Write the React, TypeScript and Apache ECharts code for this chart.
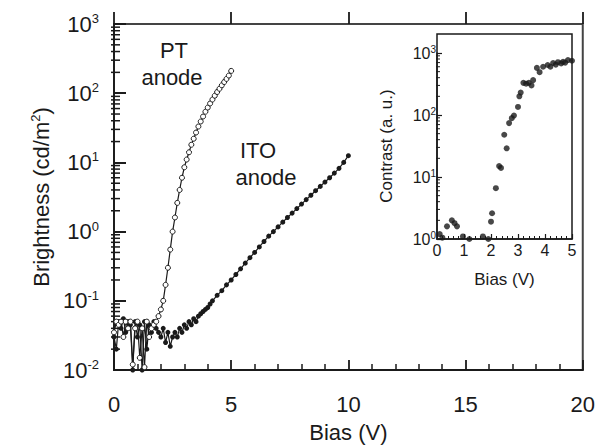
import React, { useEffect, useRef } from "react";
import * as echarts from "echarts";

// ---- Data ----
// PT anode: bias (V) and brightness (cd/m^2)
const PT_V = [0.0, 0.1, 0.2, 0.3, 0.4, 0.5, 0.6, 0.7, 0.8, 0.9, 1.0, 1.1, 1.2, 1.3, 1.4, 1.5, 1.6, 1.7, 1.8, 1.9, 2.0, 2.1, 2.2, 2.3, 2.4, 2.5, 2.6, 2.7, 2.8, 2.9, 3.0, 3.1, 3.2, 3.3, 3.4, 3.5, 3.6, 3.7, 3.8, 3.9, 4.0, 4.1, 4.2, 4.3, 4.4, 4.5, 4.6, 4.7, 4.8, 4.9, 5.0];
const PT_B = [0.035, 0.05, 0.045, 0.05, 0.03, 0.05, 0.04, 0.05, 0.012, 0.04, 0.05, 0.015, 0.04, 0.011, 0.05, 0.03, 0.04, 0.045, 0.05, 0.06, 0.075, 0.1, 0.17, 0.3, 0.55, 1.0, 1.6, 2.6, 4.0, 6.0, 8.5, 11, 14, 18, 22, 27, 33, 39, 46, 54, 62, 71, 81, 92, 104, 116, 130, 145, 161, 180, 210];

// ITO anode: bias (V) and brightness (cd/m^2)
const ITO_V = [0.0, 0.1, 0.2, 0.3, 0.4, 0.5, 0.6, 0.7, 0.8, 0.9, 1.0, 1.1, 1.2, 1.3, 1.4, 1.5, 1.6, 1.7, 1.8, 1.9, 2.0, 2.1, 2.2, 2.3, 2.4, 2.5, 2.6, 2.7, 2.8, 2.9, 3.0, 3.1, 3.2, 3.3, 3.4, 3.5, 3.6, 3.7, 3.8, 3.9, 4.0, 4.1, 4.2, 4.4, 4.6, 4.8, 5.0, 5.2, 5.4, 5.6, 5.8, 6.0, 6.2, 6.4, 6.6, 6.8, 7.0, 7.2, 7.4, 7.6, 7.8, 8.0, 8.2, 8.4, 8.6, 8.8, 9.0, 9.2, 9.4, 9.6, 9.8, 10.0];
const ITO_B = [0.03, 0.02, 0.05, 0.04, 0.055, 0.035, 0.05, 0.045, 0.01, 0.05, 0.03, 0.045, 0.01, 0.05, 0.02, 0.045, 0.035, 0.05, 0.04, 0.035, 0.03, 0.04, 0.025, 0.035, 0.022, 0.03, 0.035, 0.03, 0.04, 0.035, 0.045, 0.04, 0.05, 0.045, 0.055, 0.05, 0.06, 0.065, 0.07, 0.075, 0.08, 0.09, 0.1, 0.12, 0.14, 0.17, 0.2, 0.24, 0.29, 0.35, 0.42, 0.5, 0.6, 0.72, 0.86, 1.0, 1.17, 1.37, 1.6, 1.85, 2.15, 2.5, 2.9, 3.35, 3.9, 4.5, 5.2, 6.0, 7.0, 8.2, 10.0, 12.5];

// Inset: contrast (a. u.) vs bias (V)
const INSET_V = [0.1, 0.2, 0.37, 0.55, 0.65, 0.74, 0.96, 1.2, 1.7, 1.9, 2.0, 2.04, 2.18, 2.3, 2.37, 2.49, 2.58, 2.67, 2.77, 2.85, 3.0, 3.05, 3.1, 3.2, 3.3, 3.4, 3.5, 3.56, 3.7, 3.8, 3.93, 4.1, 4.2, 4.3, 4.4, 4.48, 4.6, 4.67, 4.75, 4.85, 5.0];
const INSET_C = [1.2, 1.05, 1.6, 2.0, 1.8, 1.6, 1.1, 1.0, 1.1, 1.0, 1.9, 2.6, 6.6, 15, 14, 48, 29, 74, 89, 98, 135, 200, 230, 330, 320, 330, 300, 365, 575, 490, 600, 640, 600, 690, 650, 710, 680, 720, 700, 770, 750];

// Axis ranges and ticks
const MAIN_X_MIN = 0, MAIN_X_MAX = 20, MAIN_X_STEP = 5;
const MAIN_Y_MIN = 0.01, MAIN_Y_MAX = 1000;
const INSET_X_MIN = 0, INSET_X_MAX = 5, INSET_X_STEP = 1;
const INSET_Y_MIN = 1, INSET_Y_MAX = 1000;
const MINOR_MULTS = [2, 3, 4, 5, 6, 7, 8, 9];
const MAIN_DECADES = [0.01, 0.1, 1, 10, 100];
const INSET_DECADES = [1, 10, 100];

const FONT = "Liberation Sans, Arial, Helvetica, sans-serif";
const INK = "#1a1a1a";

const supLabel = (v: number) => {
  const e = Math.round(Math.log10(v));
  return `{b|10}{s|${e}}`;
};

export default function App() {
  const ref = useRef<HTMLDivElement>(null);
  useEffect(() => {
    if (!ref.current) return;
    const chart = echarts.init(ref.current, undefined, { renderer: "svg" });

    const ptData = PT_V.map((v, i) => [v, PT_B[i]]);
    const itoData = ITO_V.map((v, i) => [v, ITO_B[i]]);
    const insetData = INSET_V.map((v, i) => [v, INSET_C[i]]);
    const mainMinor: number[][] = [];
    MAIN_DECADES.forEach((d) => MINOR_MULTS.forEach((m) => mainMinor.push([0, m * d])));
    const insetMinor: number[][] = [];
    INSET_DECADES.forEach((d) => MINOR_MULTS.forEach((m) => insetMinor.push([0, m * d])));

    const minorRender = (left: number, right: number, w: number) => (params: any, api: any) => {
      const p = api.coord([api.value(0), api.value(1)]);
      return {
        type: "line",
        shape: { x1: p[0] - left, y1: p[1], x2: p[0] + right, y2: p[1] },
        style: { stroke: INK, lineWidth: w },
      };
    };

    const mainRich = {
      b: { fontSize: 22, fontFamily: FONT, color: INK },
      s: { fontSize: 13, fontFamily: FONT, color: INK, padding: [0, 0, 11, 0] },
    };
    const insetRich = {
      b: { fontSize: 16, fontFamily: FONT, color: INK },
      s: { fontSize: 10, fontFamily: FONT, color: INK, padding: [0, 0, 8, 0] },
    };

    chart.setOption({
      animation: false,
      backgroundColor: "#ffffff",
      grid: [
        { left: 114, top: 24, width: 469, height: 350, show: true, borderColor: "#444", borderWidth: 2, backgroundColor: "transparent" },
        { left: 437, top: 53, width: 135, height: 186, show: false },
      ],
      xAxis: [
        {
          gridIndex: 0, type: "value", min: MAIN_X_MIN, max: MAIN_X_MAX, interval: MAIN_X_STEP,
          name: "Bias (V)", nameLocation: "middle", nameGap: 51,
          nameTextStyle: { fontSize: 22, fontFamily: FONT, color: INK },
          axisLine: { show: true, lineStyle: { color: INK, width: 1.8 } },
          axisTick: { show: true, inside: true, length: 10, lineStyle: { color: INK, width: 1.8 } },
          minorTick: { show: true, splitNumber: 5, length: 6, lineStyle: { color: INK, width: 1.5 } },
          axisLabel: { margin: 23, fontSize: 22, fontFamily: FONT, color: INK },
          splitLine: { show: false },
        },
        {
          gridIndex: 0, type: "value", min: MAIN_X_MIN, max: MAIN_X_MAX, interval: MAIN_X_STEP,
          axisLine: { show: false },
          axisTick: { show: true, inside: false, length: 12, lineStyle: { color: INK, width: 1.8 } },
          axisLabel: { show: false }, splitLine: { show: false },
        },
        {
          gridIndex: 1, type: "value", min: INSET_X_MIN, max: INSET_X_MAX, interval: INSET_X_STEP,
          name: "Bias (V)", nameLocation: "middle", nameGap: 32,
          nameTextStyle: { fontSize: 17, fontFamily: FONT, color: INK },
          axisLine: { show: true, lineStyle: { color: INK, width: 1.5 } },
          axisTick: { show: true, inside: true, length: 5, lineStyle: { color: INK, width: 1.2 } },
          minorTick: { show: true, splitNumber: 5, length: 3, lineStyle: { color: INK, width: 1 } },
          axisLabel: { margin: 3, fontSize: 16, fontFamily: FONT, color: INK },
          splitLine: { show: false },
        },
      ],
      yAxis: [
        {
          gridIndex: 0, type: "log", logBase: 10, min: MAIN_Y_MIN, max: MAIN_Y_MAX,
          name: "{a|Brightness (cd/m}{s|2}{a|)}", nameLocation: "middle", nameGap: 60, nameRotate: 90,
          nameTextStyle: {
            rich: {
              a: { fontSize: 22, fontFamily: FONT, color: INK },
              s: { fontSize: 13, fontFamily: FONT, color: INK, padding: [0, 0, 11, 0] },
            },
          },
          axisLine: { show: true, lineStyle: { color: INK, width: 1.8 } },
          axisTick: { show: true, inside: true, length: 12, lineStyle: { color: INK, width: 1.8 } },
          axisLabel: { margin: 15, formatter: supLabel, rich: mainRich },
          splitLine: { show: false },
        },
        {
          gridIndex: 0, type: "log", logBase: 10, min: MAIN_Y_MIN, max: MAIN_Y_MAX,
          axisLine: { show: false },
          axisTick: { show: true, inside: false, length: 12, lineStyle: { color: INK, width: 1.8 } },
          axisLabel: { show: false }, splitLine: { show: false },
        },
        {
          gridIndex: 1, type: "log", logBase: 10, min: INSET_Y_MIN, max: INSET_Y_MAX,
          name: "Contrast (a. u.)", nameLocation: "middle", nameGap: 42, nameRotate: 90,
          nameTextStyle: { fontSize: 17, fontFamily: FONT, color: INK },
          axisLine: { show: true, lineStyle: { color: INK, width: 1.5 } },
          axisTick: { show: true, inside: true, length: 5, lineStyle: { color: INK, width: 1.2 } },
          axisLabel: { margin: 1, formatter: supLabel, rich: insetRich },
          splitLine: { show: false },
        },
      ],
      graphic: [
        { type: "rect", shape: { x: 437, y: 34, width: 135, height: 205 }, style: { fill: "none", stroke: INK, lineWidth: 1.5 }, z: 10 },
        { type: "text", x: 174, y: 50, style: { text: "PT", font: `22px ${FONT}`, fill: INK, align: "center", verticalAlign: "middle" } },
        { type: "text", x: 172, y: 77, style: { text: "anode", font: `22px ${FONT}`, fill: INK, align: "center", verticalAlign: "middle" } },
        { type: "text", x: 258, y: 150, style: { text: "ITO", font: `22px ${FONT}`, fill: INK, align: "center", verticalAlign: "middle" } },
        { type: "text", x: 266, y: 177, style: { text: "anode", font: `22px ${FONT}`, fill: INK, align: "center", verticalAlign: "middle" } },
      ],
      series: [
        {
          name: "minor-main", type: "custom", xAxisIndex: 0, yAxisIndex: 0, clip: false, silent: true,
          renderItem: minorRender(3, 6, 1.5), data: mainMinor, z: 3,
        },
        {
          name: "minor-inset", type: "custom", xAxisIndex: 2, yAxisIndex: 2, clip: false, silent: true,
          renderItem: minorRender(1, 3, 1), data: insetMinor, z: 3,
        },
        {
          name: "ITO anode", type: "line", xAxisIndex: 0, yAxisIndex: 0, data: itoData,
          symbol: "circle", symbolSize: 5, showSymbol: true,
          itemStyle: { color: INK },
          lineStyle: { color: INK, width: 1.2 }, z: 4,
        },
        {
          name: "PT anode", type: "line", xAxisIndex: 0, yAxisIndex: 0, data: ptData,
          symbol: "circle", symbolSize: 5, showSymbol: true,
          itemStyle: { color: "#ffffff", borderColor: INK, borderWidth: 1 },
          lineStyle: { color: INK, width: 1.2 }, z: 5,
        },
        {
          name: "Contrast", type: "scatter", xAxisIndex: 2, yAxisIndex: 2, data: insetData,
          symbol: "circle", symbolSize: 6, itemStyle: { color: INK }, z: 5,
        },
      ],
    });
    return () => chart.dispose();
  }, []);

  return (
    <div
      ref={ref}
      style={{ position: "fixed", left: 0, top: 0, width: 598, height: 448, background: "#fff" }}
    />
  );
}
